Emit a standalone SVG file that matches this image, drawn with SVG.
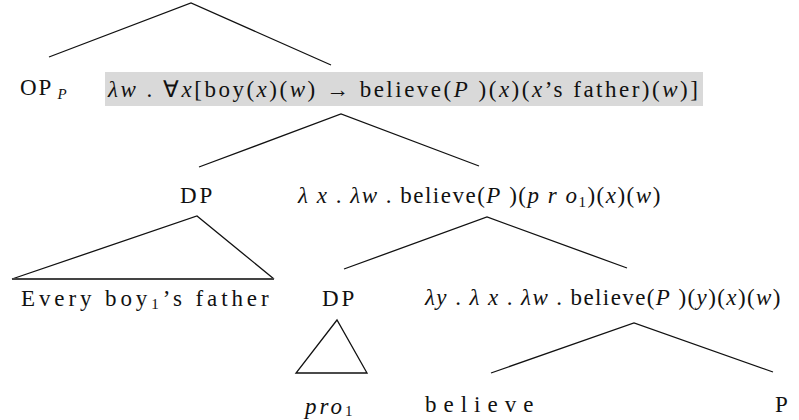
<svg xmlns="http://www.w3.org/2000/svg" width="799" height="420" viewBox="0 0 799 420">
<style>
text{font-size:23px;fill:#111}
.i{font-style:italic}
.sub{font-size:15px}
line,polyline,polygon{stroke:#111;stroke-width:1.3;fill:none}
</style>
<rect x="0" y="0" width="799" height="420" fill="#fff"/>
<g id="connectors">
<polyline points="49,57 191,3 331,65"/>
<polyline points="199,167 341,114 479,166"/>
<polyline points="344,269 487,217 627,268"/>
<polyline points="491,373 634,323 773,372"/>
<polyline points="12,279 197,216 274,279"/>
<line x1="12" y1="279" x2="274" y2="279" style="stroke:#444;stroke-width:2"/>
<polygon points="337,320 296,373 367,373"/>
</g>
<g id="op">
<text x="20" y="95" letter-spacing="2" font-family="Liberation Serif, serif">OP<tspan class="i sub" dy="4" dx="4">P</tspan></text>
</g>
<g id="root-meaning">
<rect x="105" y="72" width="598" height="34" fill="#d9d9d9"/>
<text x="108" y="97" letter-spacing="2.5" font-family="Liberation Serif, serif"><tspan class="i">λw</tspan> . ∀<tspan class="i">x</tspan>[boy(<tspan class="i">x</tspan>)(<tspan class="i">w</tspan>) → believe(<tspan class="i">P</tspan> )(<tspan class="i">x</tspan>)(<tspan class="i">x</tspan>’s father)(<tspan class="i">w</tspan>)]</text>
</g>
<g id="dp1">
<text x="180" y="203" letter-spacing="3" font-family="Liberation Serif, serif">DP</text>
</g>
<g id="vp1">
<text x="298" y="203" letter-spacing="1.5" font-family="Liberation Serif, serif"><tspan class="i">λ x</tspan> . <tspan class="i">λw</tspan> . believe(<tspan class="i">P</tspan> )(<tspan class="i">p r o</tspan><tspan class="sub" dy="4">1</tspan><tspan dy="-4">)(</tspan><tspan class="i">x</tspan>)(<tspan class="i">w</tspan>)</text>
</g>
<g id="every">
<text x="21" y="306" letter-spacing="3.9" font-family="Liberation Serif, serif">Every boy<tspan class="sub" dy="3">1</tspan><tspan dy="-3">’s father</tspan></text>
</g>
<g id="dp2">
<text x="322" y="306" letter-spacing="3" font-family="Liberation Serif, serif">DP</text>
</g>
<g id="vp2">
<text x="425" y="305" letter-spacing="1.4" font-family="Liberation Serif, serif"><tspan class="i">λy</tspan> . <tspan class="i">λ x</tspan> . <tspan class="i">λw</tspan> . believe(<tspan class="i">P</tspan> )(<tspan class="i">y</tspan>)(<tspan class="i">x</tspan>)(<tspan class="i">w</tspan>)</text>
</g>
<g id="pro">
<text x="305" y="414" letter-spacing="3" font-family="Liberation Serif, serif"><tspan class="i">pro</tspan><tspan class="sub" dy="2">1</tspan></text>
</g>
<g id="believe">
<text x="425" y="412" letter-spacing="7" font-family="Liberation Serif, serif">believe</text>
</g>
<g id="p">
<text x="775" y="412" font-family="Liberation Serif, serif">P</text>
</g>
</svg>
